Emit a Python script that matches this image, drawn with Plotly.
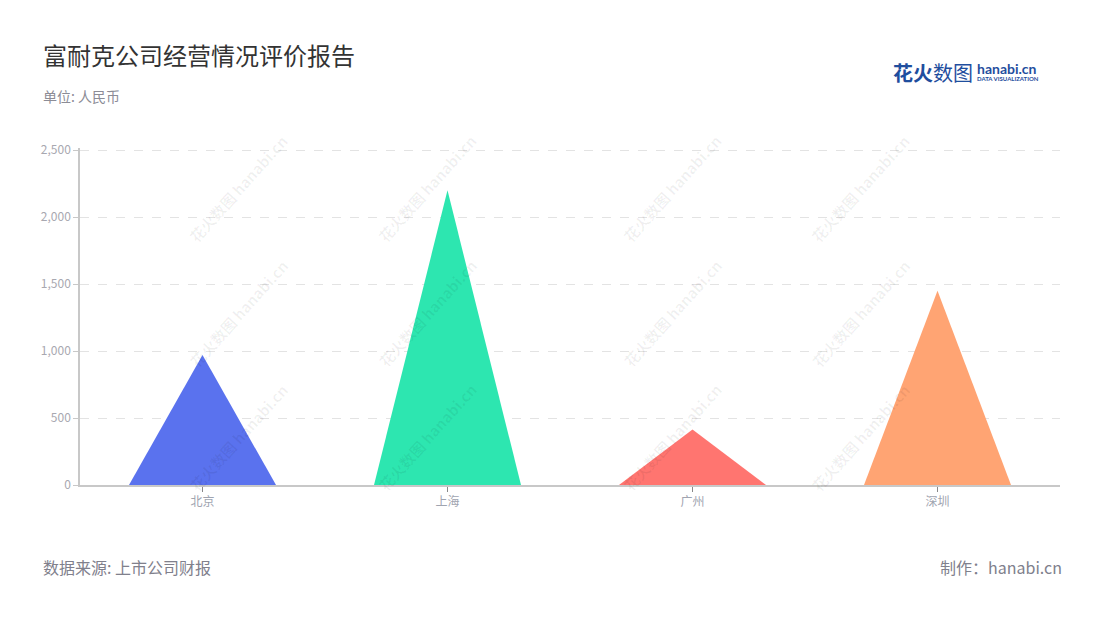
import plotly.graph_objects as go

categories = ["北京", "上海", "广州", "深圳"]
values = [970, 2200, 415, 1450]
colors = ["#5a72ee", "#2de6b0", "#ff7570", "#ffa473"]
y_ticks = [0, 500, 1000, 1500, 2000, 2500]
y_tick_labels = ["0", "500", "1,000", "1,500", "2,000", "2,500"]

FONT = "Noto Sans CJK SC"
half_width = 0.3
PW, PH = 980, 337   # plot area size in px
X0, Y0 = 80, 485    # screen position of plot-area bottom-left


def px(x):
    return (x - X0) / PW


def py(y):
    return (Y0 - y) / PH


fig = go.Figure()
for i, (cat, v, c) in enumerate(zip(categories, values, colors)):
    fig.add_trace(go.Scatter(
        x=[i - half_width, i, i + half_width, i - half_width],
        y=[0, v, 0, 0],
        mode="lines",
        fill="toself",
        fillcolor=c,
        line=dict(width=0, color=c),
        name=cat,
        hoverinfo="skip",
        showlegend=False,
    ))

# watermarks
wm_x = [182, 427, 672, 917]
wm_y = [128, 313, 498]
for wy in wm_y:
    for wx in wm_x:
        fig.add_annotation(
            xref="paper", yref="paper",
            x=px(wx), y=py(wy),
            text="<b>花火数图 hanabi.cn</b>",
            showarrow=False, textangle=-48,
            font=dict(family=FONT, size=15, color="rgba(0,0,0,0.06)"),
        )

# title, subtitle, footers
fig.add_annotation(xref="paper", yref="paper", x=px(41), y=py(55), xanchor="left", yanchor="middle",
                   text="富耐克公司经营情况评价报告", showarrow=False,
                   font=dict(family=FONT, size=24, color="#333333"))
fig.add_annotation(xref="paper", yref="paper", x=px(41), y=py(96), xanchor="left", yanchor="middle",
                   text="单位: 人民币", showarrow=False,
                   font=dict(family=FONT, size=14, color="#8c8c96"))
fig.add_annotation(xref="paper", yref="paper", x=px(41), y=py(567), xanchor="left", yanchor="middle",
                   text="数据来源: 上市公司财报", showarrow=False,
                   font=dict(family=FONT, size=16, color="#80808c"))
fig.add_annotation(xref="paper", yref="paper", x=px(1064), y=py(567), xanchor="right", yanchor="middle",
                   text="制作：hanabi.cn", showarrow=False,
                   font=dict(family=FONT, size=16, color="#80808c"))
# logo
fig.add_annotation(xref="paper", yref="paper", x=px(891), y=py(72), xanchor="left", yanchor="middle",
                   text="<b>花火</b>数图", showarrow=False,
                   font=dict(family=FONT, size=20, color="#1f4e9e"))
fig.add_annotation(xref="paper", yref="paper", x=px(975), y=py(68), xanchor="left", yanchor="middle",
                   text="<b>hanabi.cn</b>", showarrow=False,
                   font=dict(family="Lato", size=14, color="#1f4e9e"))
fig.add_annotation(xref="paper", yref="paper", x=px(975), y=py(79), xanchor="left", yanchor="middle",
                   text="<b>DATA VISUALIZATION</b>", showarrow=False,
                   font=dict(family="Lato", size=6, color="#1f4e9e"))

fig.update_layout(
    width=1100, height=620,
    margin=dict(l=72, r=48, t=140, b=143),
    paper_bgcolor="white", plot_bgcolor="white",
    font=dict(family=FONT),
    xaxis=dict(
        range=[-0.5, len(categories) - 0.5],
        tickvals=list(range(len(categories))),
        ticktext=categories,
        showgrid=False, zeroline=False,
        showline=True, linecolor="#c8c8c8", linewidth=1.5,
        ticks="outside", ticklen=5, tickcolor="#888888", tickwidth=1,
        tickfont=dict(family=FONT, size=12, color="#a0a4b0"),
        fixedrange=True,
    ),
    yaxis=dict(
        range=[0, 2515],
        tickvals=y_ticks, ticktext=y_tick_labels,
        showgrid=True, gridcolor="#e3e3e3", griddash="dash", gridwidth=1,
        zeroline=False,
        showline=True, linecolor="#c8c8c8", linewidth=1.5,
        ticks="outside", ticklen=5, tickcolor="#c8c8c8",
        tickfont=dict(family=FONT, size=12, color="#a8a8b0"),
        fixedrange=True,
    ),
)

fig.write_html("out.html")
